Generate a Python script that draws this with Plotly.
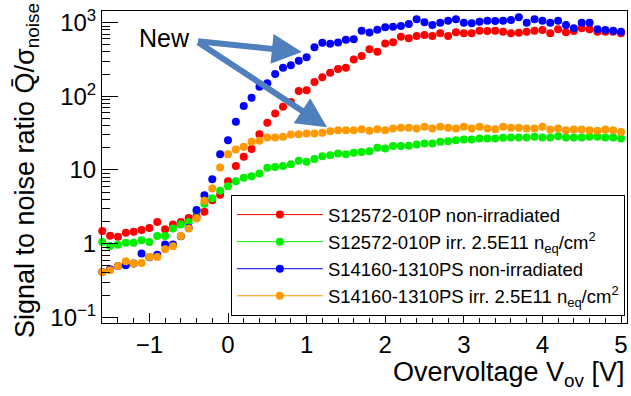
import numpy as np
import plotly.graph_objects as go

# ---------------- data ----------------
voltage = [-1.6, -1.5, -1.4, -1.3, -1.2, -1.1, -1.0, -0.9, -0.8, -0.7, -0.6, -0.5, -0.4, -0.3,
           -0.2, -0.1, 0.0, 0.1, 0.2, 0.3, 0.4, 0.5, 0.6, 0.7, 0.8, 0.9, 1.0, 1.1, 1.2, 1.3,
           1.4, 1.5, 1.6, 1.7, 1.8, 1.9, 2.0, 2.1, 2.2, 2.3, 2.4, 2.5, 2.6, 2.7, 2.8, 2.9,
           3.0, 3.1, 3.2, 3.3, 3.4, 3.5, 3.6, 3.7, 3.8, 3.9, 4.0, 4.1, 4.2, 4.3, 4.4, 4.5,
           4.6, 4.7, 4.8, 4.9, 5.0]

s12572_nonirr = [1.49, 1.28, 1.24, 1.41, 1.45, 1.53, 1.63, 1.97, 1.57, 1.82, 1.97, 2.23, 2.36, 2.71,
                 3.89, 4.62, 7.04, 11.3, 15.1, 19.2, 30.6, 43.7, 58.4, 72.0, 83.4, 118, 121, 157, 181, 209,
                 234, 245, 315, 352, 434, 402, 523, 540, 643, 612, 657, 678, 657, 716, 657, 739,
                 716, 716, 776, 769, 776, 752, 716, 730, 752, 776, 793, 716, 811, 739, 769, 837,
                 811, 752, 752, 752, 716]

s12572_irr = [1.05, 0.93, 0.97, 1.03, 1.03, 1.11, 1.05, 1.27, 1.27, 1.60, 1.82, 1.97, 2.8, 3.48,
              4.14, 5.23, 6.02, 7.04, 7.86, 8.24, 8.96, 10.7, 11.0, 11.3, 12.0, 13.3, 12.9, 14.1, 15.4, 15.9,
              16.8, 16.4, 17.1, 17.6, 18.0, 20.0, 19.6, 21.1, 21.1, 21.3, 22.2, 22.9, 22.9, 24.1, 24.6, 25.4,
              26.0, 26.0, 26.8, 26.8, 26.8, 27.3, 27.6, 27.6, 27.6, 28.2, 27.6, 27.6, 28.8, 27.6, 27.6, 27.6,
              28.2, 28.2, 27.6, 27.6, 26.8]

s14160_nonirr = [0.413, 0.449, 0.498, 0.509, 0.537, 0.734, 0.653, 0.707, 0.972, 0.972, 1.26, 1.64, 2.87, 4.55,
                 7.50, 16.4, 25.4, 45.3, 74.1, 95.4, 135, 150, 201, 245, 263, 303, 339, 463, 533, 518,
                 537, 587, 597, 776, 734, 803, 863, 880, 899, 957, 1108, 1009, 928, 997, 1061, 1108,
                 997, 978, 1029, 1061, 1051, 1061, 1085, 1180, 997, 1108, 1061, 997, 1061, 928, 837, 997,
                 997, 811, 793, 776, 752]

s14160_irr = [0.413, 0.435, 0.498, 0.577, 0.537, 0.547, 0.660, 0.660, 0.839, 0.922, 1.27, 1.60, 2.19, 3.83,
              5.61, 10.8, 16.4, 19.0, 20.6, 24.1, 24.9, 27.6, 27.7, 28.2, 30.4, 30.6, 31.3, 31.3, 31.9, 33.5,
              34.7, 34.7, 34.7, 35.8, 34.0, 35.8, 34.7, 36.6, 37.3, 37.3, 36.6, 38.5, 36.6, 38.5, 37.3, 36.6,
              38.5, 36.6, 38.5, 36.6, 35.8, 38.5, 37.3, 37.3, 36.6, 36.6, 38.5, 35.5, 36.6, 34.7, 35.5, 35.5,
              34.7, 34.0, 35.5, 34.7, 32.9]

series_names = [
    "S12572-010P non-irradiated",
    "S12572-010P irr. 2.5E11 n<sub>eq</sub>/cm<sup>2</sup>",
    "S14160-1310PS non-irradiated",
    "S14160-1310PS irr. 2.5E11 n<sub>eq</sub>/cm<sup>2</sup>",
]
series_values = [s12572_nonirr, s12572_irr, s14160_nonirr, s14160_irr]
series_colors = ["#ff0000", "#00ee00", "#0000ff", "#ff9900"]
rel_error_percent = 7

x_tick_values = [-1, 0, 1, 2, 3, 4, 5]
y_tick_values = [0.1, 1, 10, 100, 1000]
y_tick_text = ["10<sup>\u22121</sup>", "1", "10", "10<sup>2</sup>", "10<sup>3</sup>"]

new_label_pos = (-0.81, 620)
arrow_tail = (-0.40, 560)
arrow_tips = [(0.94, 400), (1.26, 38)]

FONT = "Liberation Sans, Arial, sans-serif"

fig = go.Figure()

for name, vals, col in zip(series_names, series_values, series_colors):
    fig.add_trace(go.Scatter(
        x=voltage, y=vals, mode="markers", name=name, showlegend=False,
        marker=dict(color=col, size=8, line=dict(width=0)),
        error_y=dict(type="percent", value=rel_error_percent, color=col, thickness=1, width=2),
        cliponaxis=False,
    ))

for i, (name, col) in enumerate(zip(series_names, series_colors)):
    fig.add_trace(go.Scatter(
        x=[None], y=[None], mode="lines+markers", name=name, legendgroup=str(i),
        marker=dict(color=col, size=8), line=dict(color=col, width=1), showlegend=True,
    ))

minor_y = [m * 10.0 ** e for e in range(-1, 3) for m in range(2, 10)]

fig.update_layout(
    width=631, height=396,
    margin=dict(l=102, r=4, t=11, b=73),
    paper_bgcolor="white", plot_bgcolor="white",
    font=dict(family=FONT, color="black", size=24),
    xaxis=dict(
        range=[-1.603, 5.076], showgrid=False, zeroline=False,
        showline=True, linecolor="black", linewidth=1, mirror=True,
        ticks="inside", ticklen=10, tickcolor="black",
        tickmode="array", tickvals=x_tick_values,
        tickfont=dict(size=24, family=FONT),
        minor=dict(ticks="inside", ticklen=5, dtick=0.2, tickcolor="black", showgrid=False),
    ),
    yaxis=dict(
        type="log", range=[-1.077, 3.158], showgrid=False, zeroline=False,
        showline=True, linecolor="black", linewidth=1, mirror=True,
        ticks="inside", ticklen=16, tickcolor="black",
        tickmode="array", tickvals=y_tick_values, ticktext=y_tick_text,
        tickfont=dict(size=24, family=FONT),
        minor=dict(ticks="inside", ticklen=8, tickmode="array", tickvals=minor_y,
                   tickcolor="black", showgrid=False),
    ),
    legend=dict(
        x=0.996, y=0.41, xanchor="right", yanchor="top",
        bgcolor="white", bordercolor="black", borderwidth=1,
        font=dict(size=18.5, family=FONT),
        itemwidth=86, traceorder="grouped", tracegroupgap=0,
    ),
    showlegend=True,
)

annotations = [
    dict(xref="paper", yref="paper", x=-0.143, y=0.49, xanchor="center", yanchor="middle",
         textangle=-90, showarrow=False,
         text="Signal to noise ratio Q\u0304/\u03c3<sub>noise</sub>", font=dict(size=27, family=FONT)),
    dict(xref="paper", yref="paper", x=1.0, y=-0.165, xanchor="right", yanchor="middle",
         showarrow=False, text="Overvoltage V<sub>ov</sub> [V]", font=dict(size=27, family=FONT)),
    dict(x=new_label_pos[0], y=np.log10(new_label_pos[1]), xref="x", yref="y", showarrow=False,
         text="New", font=dict(size=25, family=FONT)),
]
for tx, ty in arrow_tips:
    annotations.append(dict(
        x=tx, y=np.log10(ty), xref="x", yref="y",
        ax=arrow_tail[0], ay=np.log10(arrow_tail[1]), axref="x", ayref="y",
        text="", showarrow=True, arrowhead=2, arrowsize=1, arrowwidth=6,
        arrowcolor="#4f7fbd", standoff=0, startstandoff=0,
    ))
fig.update_layout(annotations=annotations)

fig.write_html("out.html")
